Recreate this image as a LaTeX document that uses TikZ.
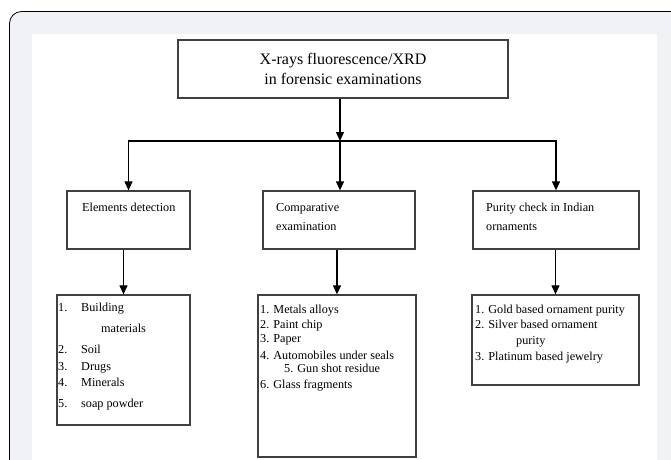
\documentclass[tikz,border=0pt]{standalone}
\usepackage{fontspec}
\setmainfont{Liberation Serif}
\usetikzlibrary{arrows.meta}
\definecolor{framegray}{RGB}{241,242,245}

\begin{document}
\begin{tikzpicture}[
    x=1pt, y=-1pt,
    box/.style={rectangle, draw=black!75, line width=1.3pt, inner sep=0pt},
    txt/.style={inner sep=0pt, align=left, font=\fontsize{12.2}{19}\selectfont},
    listtxt/.style={inner sep=0pt, align=left, font=\fontsize{12.2}{16.5}\selectfont},
    arrow/.style={-{Triangle[width=8pt,length=9pt]}, line width=1.2pt}
]
\useasboundingbox (0,0) rectangle (671,459);
\clip (0,0) rectangle (671,459);
% Frame
\draw[fill=framegray, line width=0.8pt, rounded corners=12pt] (9.5,11.5) rectangle (700,500);
\fill[white] (32,34) rectangle (657,470);

% Top
\node[box, minimum width=330pt, minimum height=58pt, align=center,
      font=\fontsize{16}{20}\selectfont] (title) at (343,69)
      {X-rays fluorescence/XRD\\in forensic examinations};

% Middle
\node[box, minimum width=123pt, minimum height=58pt] (elem) at (128.5,220) {};
\node[box, minimum width=152pt, minimum height=58pt] (comp) at (339,220) {};
\node[box, minimum width=166pt, minimum height=58pt] (purity) at (556,220) {};
\node[txt, anchor=north west] (elemtxt) at (82,203) {Elements detection};
\node[txt, anchor=north west] (comptxt) at (276,203) {Comparative\\examination};
\node[txt, anchor=north west] (puritytxt) at (486,203) {Purity check in Indian\\ornaments};

% Lists
\node[box, minimum width=133pt, minimum height=130pt] (elemlist) at (123.5,360) {};
\node[box, minimum width=158pt, minimum height=162pt] (complist) at (337,376) {};
\node[box, minimum width=167pt, minimum height=90pt] (puritylist) at (555.5,340) {};
\node[listtxt, anchor=north west] (elemitems) at (58,303) {%
  \makebox[23pt][l]{1.}Building\\[4pt]
  \hspace*{43pt}materials\\[5pt]
  \makebox[23pt][l]{2.}Soil\\
  \makebox[23pt][l]{3.}Drugs\\
  \makebox[23pt][l]{4.}Minerals\\[4pt]
  \makebox[23pt][l]{5.}soap powder};
\node[listtxt, anchor=north west, font=\fontsize{12.2}{14.5}\selectfont] (compitems) at (260,305) {%
  1. Metals alloys\\
  2. Paint chip\\
  3. Paper\\[2.5pt]
  4. Automobiles under seals\\[-2pt]
  \hspace*{24pt}5. Gun shot residue\\[2pt]
  6. Glass fragments};
\node[listtxt, anchor=north west, font=\fontsize{12.2}{14.5}\selectfont] (purityitems) at (475,305) {%
  1. Gold based ornament purity\\
  2. Silver based ornament\\[1.5pt]
  \hspace*{41pt}purity\\[2pt]
  3. Platinum based jewelry};

% Arrows
\coordinate (split) at (340,141);
\draw[arrow] (title.south -| split) -- (split);
\draw[arrow] (split) -| (elem.north);
\draw[arrow] (split) -| (purity.north);
\draw[arrow] (split) -- (split |- comp.north);
\draw[arrow] (elemlist.north |- elem.south) -- (elemlist.north);
\draw[arrow] (complist.north |- comp.south) -- (complist.north);
\draw[arrow] (puritylist.north |- purity.south) -- (puritylist.north);
\end{tikzpicture}
\end{document}
